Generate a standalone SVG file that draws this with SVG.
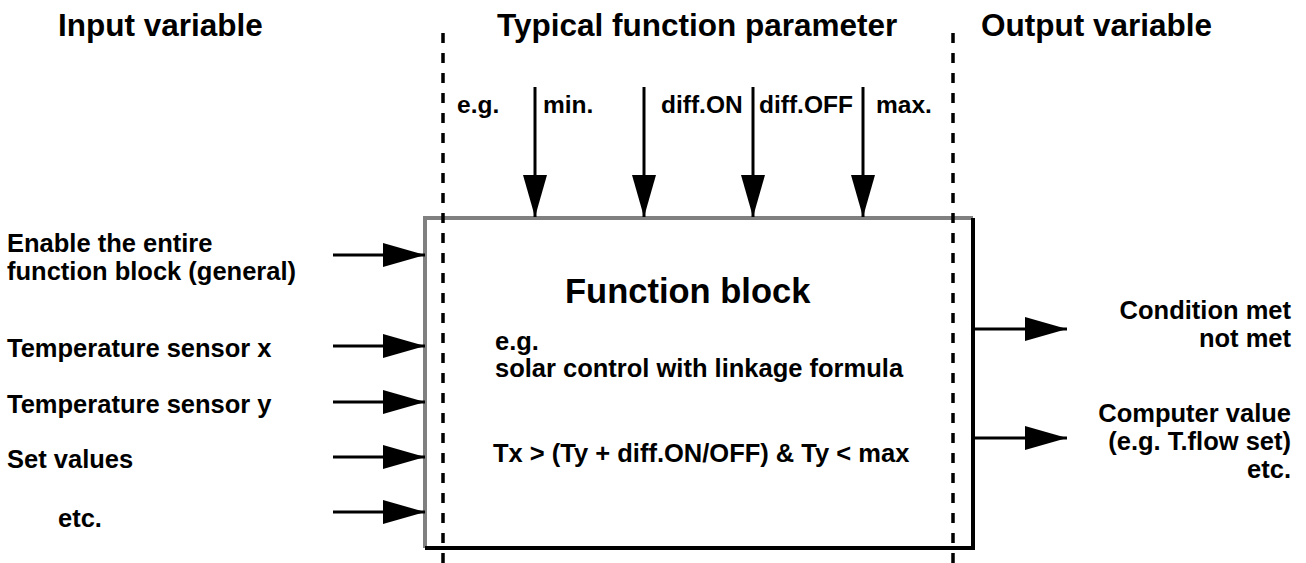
<svg xmlns="http://www.w3.org/2000/svg" width="1306" height="563" viewBox="0 0 1306 563">
<defs>
<marker id="ah" markerUnits="userSpaceOnUse" markerWidth="44" markerHeight="26" refX="42" refY="12" orient="auto"><path d="M0,0 L42,12 L0,24 z" fill="#000"/></marker>
<style>
text{font-family:"Liberation Sans",Arial,sans-serif;font-weight:bold;fill:#000}
.hd{font-size:31.5px}
.lb{font-size:25.5px}
.pm{font-size:24.5px}
.ttl{font-size:34.5px}
.ar{stroke:#000;stroke-width:3;fill:none;marker-end:url(#ah)}
.dash{stroke:#000;stroke-width:3.5;stroke-dasharray:10 10;fill:none}
</style>
</defs>
<rect width="1306" height="563" fill="#fff"/>
<g id="headers">
<text class="hd" x="58" y="36">Input variable</text>
<text class="hd" x="497" y="36">Typical function parameter</text>
<text class="hd" x="981" y="36">Output variable</text>
</g>
<g id="function-block">
<path d="M425,548 L425,218 L973,218" fill="none" stroke="#808080" stroke-width="4"/>
<path d="M973,218 L973,548 L425,548" fill="none" stroke="#000" stroke-width="4"/>
<text class="ttl" x="565" y="303">Function block</text>
<text class="lb" x="495" y="350">e.g.</text>
<text class="lb" x="495" y="377">solar control with linkage formula</text>
<text class="lb" x="493" y="462">Tx &gt; (Ty + diff.ON/OFF) &amp; Ty &lt; max</text>
</g>
<g id="dividers">
<line class="dash" x1="443" y1="33" x2="443" y2="563"/>
<line class="dash" x1="953" y1="33" x2="953" y2="563"/>
</g>
<g id="inputs">
<text class="lb" x="7" y="252">Enable the entire</text>
<text class="lb" x="7" y="280">function block (general)</text>
<text class="lb" x="7" y="357">Temperature sensor x</text>
<text class="lb" x="7" y="413">Temperature sensor y</text>
<text class="lb" x="7" y="468">Set values</text>
<text class="lb" x="58" y="527">etc.</text>
</g>
<g id="parameters">
<text class="pm" x="457" y="113">e.g.</text>
<text class="pm" x="543" y="113">min.</text>
<text class="pm" x="661" y="113">diff.ON</text>
<text class="pm" x="759" y="113">diff.OFF</text>
<text class="pm" x="876" y="113">max.</text>
</g>
<g id="outputs">
<text class="lb" x="1291" y="319" text-anchor="end">Condition met</text>
<text class="lb" x="1291" y="347" text-anchor="end">not met</text>
<text class="lb" x="1291" y="422" text-anchor="end">Computer value</text>
<text class="lb" x="1291" y="450" text-anchor="end">(e.g. T.flow set)</text>
<text class="lb" x="1291" y="478" text-anchor="end">etc.</text>
</g>
<g id="connectors">
<line class="ar" x1="333" y1="255" x2="425" y2="255"/>
<line class="ar" x1="333" y1="346" x2="425" y2="346"/>
<line class="ar" x1="333" y1="402" x2="425" y2="402"/>
<line class="ar" x1="333" y1="457" x2="425" y2="457"/>
<line class="ar" x1="333" y1="512" x2="425" y2="512"/>
<line class="ar" x1="535" y1="87" x2="535" y2="217"/>
<line class="ar" x1="644" y1="87" x2="644" y2="217"/>
<line class="ar" x1="753" y1="87" x2="753" y2="217"/>
<line class="ar" x1="863" y1="87" x2="863" y2="217"/>
<line class="ar" x1="973" y1="329" x2="1067" y2="329"/>
<line class="ar" x1="973" y1="438" x2="1067" y2="438"/>
</g>
</svg>
